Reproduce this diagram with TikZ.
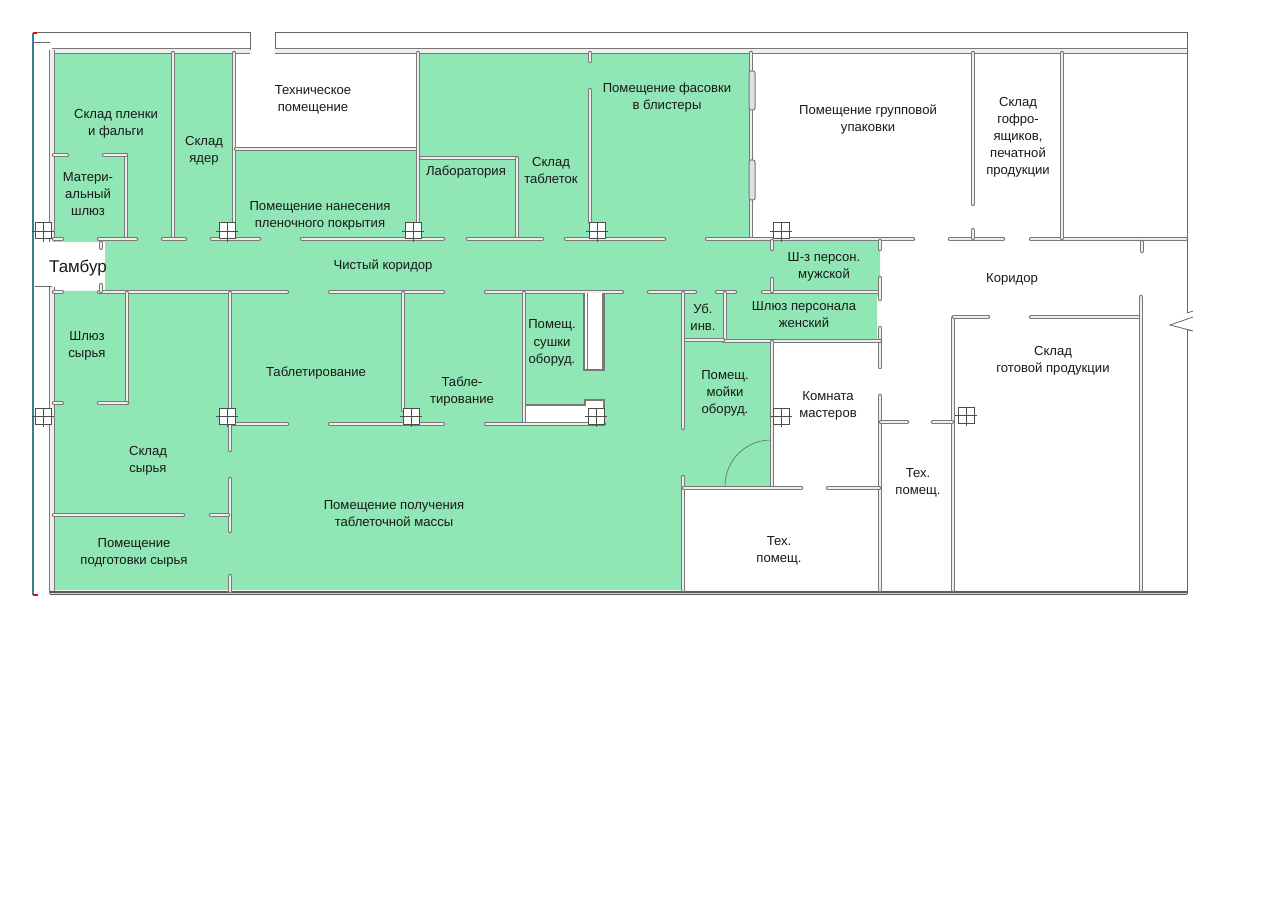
\documentclass[tikz,border=0pt]{standalone}
\usepackage{fontspec}
\setmainfont{Liberation Sans}
\definecolor{roomgreen}{RGB}{144,230,180}
\definecolor{wallgray}{RGB}{120,120,120}
\definecolor{wallcore}{RGB}{238,238,238}
\definecolor{edgeblue}{RGB}{60,125,145}

\begin{document}
\begin{tikzpicture}[x=0.5pt,y=-0.5pt,
    wall/.style={draw=wallgray,line width=0.55pt,double=wallcore,double distance=1.15pt,line cap=round},
    thickwall/.style={draw=wallgray,line width=0.6pt,double=wallcore,double distance=1.7pt},
    outer/.style={draw=black!60,line width=0.5pt},
    columnbox/.style={draw=black!70,line width=0.5pt,fill=white},
    room/.style={align=center,inner sep=0pt,yshift=-0.7pt,text=black!90,font=\fontsize{6.55}{8.55}\selectfont}]
  \useasboundingbox (0,0) rectangle (1277,897);
  % green zone
  \fill[roomgreen] (53,52) -- (234,52) -- (234,150) -- (418,150) -- (418,52) -- (751,52)
    -- (751,240) -- (880,240) -- (880,296) -- (877,296) -- (877,340) -- (772,340)
    -- (772,488) -- (683,488) -- (683,590) -- (53,590) -- (53,291) -- (105,291)
    -- (105,242) -- (53,242) -- cycle;
  \fill[white] (526,405) -- (585,405) -- (585,400) -- (604,400) -- (604,424) -- (526,424) -- cycle;
  % outer walls
  \draw[outer] (33,33) -- (250,33) -- (250,50) -- (52,50);
  \draw[outer] (275,50) -- (275,33) -- (1187,33) -- (1187,313);
  \draw[thickwall] (275,51) -- (1187,51);
  \draw[thickwall] (52,51) -- (250,51);
  \draw[edgeblue,line width=0.6pt] (33,33) -- (33,595);
  \draw[red,line width=1pt] (33,33) -- (37,33) (33,595) -- (38,595);
  \draw[outer,line width=0.4pt] (34,42) -- (50,42);
  \draw[thickwall] (52,50) -- (52,242);
  \draw[thickwall] (52,287) -- (52,594);
  \draw[outer] (35,287) -- (52,287);
  \draw[draw=black!65,line width=0.8pt,double=black!15,double distance=0.5pt] (50,593) -- (1187,593);
  \draw[outer] (1187,330) -- (1187,594);
  \draw[outer,line width=0.4pt] (1187,313) -- (1193,311) (1193,317) -- (1170,325) -- (1193,331) -- (1187,330);
  % inner walls, vertical and horizontal pieces
  \foreach \xa/\ya/\xb/\yb in {
    173/53/173/238, 234/53/234/222, 126/155/126/238, 104/155/126/155, 54/155/67/155,
    236/149/417/149, 418/53/418/238, 421/158/517/158, 517/158/517/238,
    590/90/590/222, 590/53/590/61, 751/53/751/238,
    54/239/62/239, 99/239/136/239, 163/239/185/239, 212/239/259/239, 302/239/443/239,
    468/239/542/239, 566/239/664/239, 707/239/913/239, 950/239/1003/239, 1031/239/1186/239,
    54/292/62/292, 99/292/287/292, 330/292/443/292, 486/292/622/292, 649/292/695/292,
    717/292/735/292, 763/292/878/292,
    101/243/101/248, 101/285/101/291, 772/241/772/249, 772/279/772/291,
    880/241/880/249, 880/278/880/299, 880/328/880/367, 880/396/880/590,
    725/293/725/340, 724/341/880/341, 684/340/723/340,
    683/293/683/428, 683/477/683/590, 772/342/772/487,
    684/488/801/488, 828/488/879/488,
    524/293/524/423, 403/293/403/410, 233/424/287/424, 330/424/443/424, 486/424/604/424,
    230/293/230/408, 230/424/230/450, 230/479/230/531, 230/576/230/591,
    54/515/183/515, 211/515/228/515, 127/293/127/403, 99/403/127/403, 54/403/62/403,
    953/318/953/590, 954/317/988/317, 1031/317/1140/317, 1141/297/1141/590, 1142/242/1142/251,
    881/422/907/422, 933/422/952/422, 973/53/973/204, 973/230/973/238, 1062/53/1062/238}
    \draw[wall] (\xa,\ya) -- (\xb,\yb);
  % windows and the drying cabinet
  \draw[draw=wallgray,fill=black!12,line width=0.5pt,rounded corners=1pt] (749,71) rectangle (755,110);
  \draw[draw=wallgray,fill=black!12,line width=0.5pt,rounded corners=1pt] (749,160) rectangle (755,200);
  \draw[draw=wallgray,fill=white,line width=0.6pt] (584,293) -- (584,370) -- (604,370) -- (604,293);
  \draw[wallgray,line width=0.4pt] (587,293) -- (587,370) (602,293) -- (602,370);
  \draw[wallgray,line width=0.7pt] (526,405) -- (585,405) -- (585,400) -- (604,400) -- (604,424);
  % door swing
  \draw[black!60,line width=0.3pt] (771,440) arc[start angle=270,end angle=180,radius=46];
  % columns
  \foreach \xc/\yc in {43/231, 227/231, 413/231, 597/231, 781/231, 43/416, 227/416, 411/416, 596/416, 781/416, 966/415} {
    \draw[columnbox] (\xc-8,\yc-8) rectangle (\xc+8,\yc+8);
    \draw[black!70,line width=0.4pt] (\xc-11,\yc) -- (\xc+11,\yc) (\xc,\yc-8) -- (\xc,\yc+11);
  }
  % labels
  \node[room] (filmstore) at (116,122.5) {Склад пленки\\и фальги};
  \node[room] (corestore) at (204,149.5) {Склад\\ядер};
  \node[room] (matlock) at (88,192.5) {Матери-\\альный\\шлюз};
  \node[room] (techroom) at (313,98.5) {Техническое\\помещение};
  \node[room] (coating) at (320,214.5) {Помещение нанесения\\пленочного покрытия};
  \node[room] (lab) at (466,171) {Лаборатория};
  \node[room] (tabstore) at (551,169.5) {Склад\\таблеток};
  \node[room] (blister) at (667,96.5) {Помещение фасовки\\в блистеры};
  \node[room] (groupack) at (868,118.5) {Помещение групповой\\упаковки};
  \node[room] (boxstore) at (1018,136) {Склад\\гофро-\\ящиков,\\печатной\\продукции};
  \node[room,font=\fontsize{8.5}{9}\selectfont,yshift=0.7pt] (vestibule) at (78,268) {Тамбур};
  \node[room] (cleancorr) at (383,265) {Чистый коридор};
  \node[room] (corr) at (1012,278) {Коридор};
  \node[room] (menlock) at (824,265.5) {Ш-з персон.\\мужской};
  \node[room] (womenlock) at (804,313.5) {Шлюз персонала\\женский};
  \node[room] (cleaning) at (703,315.5) {Уб.\\инв.};
  \node[room] (drying) at (552,341.5) {Помещ.\\сушки\\оборуд.};
  \node[room] (rawlock) at (87,344.5) {Шлюз\\сырья};
  \node[room] (tablet) at (316,372) {Таблетирование};
  \node[room] (tabletb) at (462,390.5) {Табле-\\тирование};
  \node[room] (washing) at (725,392) {Помещ.\\мойки\\оборуд.};
  \node[room] (masters) at (828,404.5) {Комната\\мастеров};
  \node[room] (rawstore) at (148,459.5) {Склад\\сырья};
  \node[room] (mass) at (394,512.5) {Помещение получения\\таблеточной массы};
  \node[room] (rawprep) at (134,551.5) {Помещение\\подготовки сырья};
  \node[room] (techa) at (779,549) {Тех.\\помещ.};
  \node[room] (techb) at (918,481.5) {Тех.\\помещ.};
  \node[room] (finished) at (1053,359.5) {Склад\\готовой продукции};
\end{tikzpicture}
\end{document}
